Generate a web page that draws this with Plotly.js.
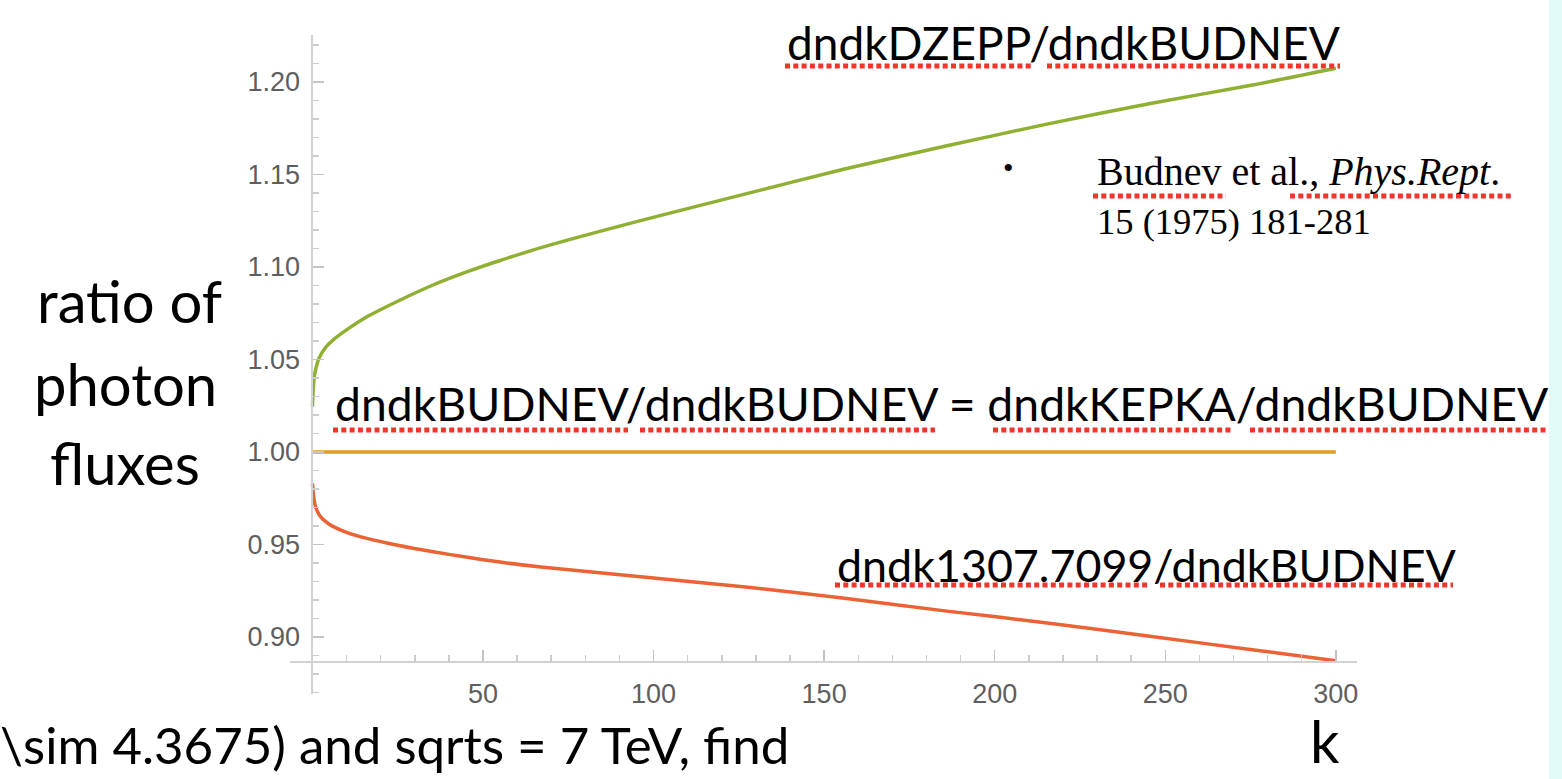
<!DOCTYPE html>
<html><head><meta charset="utf-8">
<script src="https://cdn.plot.ly/plotly-3.0.1.min.js"></script>
<style>html,body{margin:0;padding:0;background:#fff;overflow:hidden}#chart{width:1562px;height:779px}</style>
</head><body><div id="chart"></div>
<script>
// photon energy k
const k = [0, 0.5, 1, 2, 4, 6, 10, 16, 25, 35, 45, 55, 67, 97, 127, 156, 186, 216, 246, 276, 300];
// dndkDZEPP / dndkBUDNEV
const ratioDZEPP = [1.0245, 1.040, 1.045, 1.0510, 1.0568, 1.0605, 1.0660, 1.0731, 1.0815, 1.0900, 1.0972, 1.1035, 1.1105, 1.1255, 1.1395, 1.1530, 1.1655, 1.1775, 1.1885, 1.1985, 1.2074];
// dndk1307.7099 / dndkBUDNEV
const ratio1307 = [0.9831, 0.9740, 0.9700, 0.9660, 0.9622, 0.9598, 0.9566, 0.9533, 0.9496, 0.9462, 0.9432, 0.9405, 0.9378, 0.9325, 0.9270, 0.9210, 0.9140, 0.9075, 0.9003, 0.8930, 0.8872];
// dndkBUDNEV / dndkBUDNEV = dndkKEPKA / dndkBUDNEV
const kFlat = [0, 300];
const ratioFlat = [1.0, 1.0];

const yTicks = [0.90, 0.95, 1.00, 1.05, 1.10, 1.15, 1.20];
const xTicks = [50, 100, 150, 200, 250, 300];

const W = 1562, H = 779;
const px = x => x / W, py = y => 1 - y / H;

const traces = [
  {x: k, y: ratioDZEPP, mode: 'lines', line: {color: '#8fb032', width: 3.5, shape: 'spline', smoothing: 0.7}, hoverinfo: 'skip'},
  {x: kFlat, y: ratioFlat, mode: 'lines', line: {color: '#e19c24', width: 3.5}, hoverinfo: 'skip'},
  {x: k, y: ratio1307, mode: 'lines', line: {color: '#eb6235', width: 3.5, shape: 'spline', smoothing: 0.7}, hoverinfo: 'skip'}
];

const sans = 'Lato, "Open Sans", sans-serif';
const serif = '"Liberation Serif", "Times New Roman", serif';
function ann(text, x, y, size, family, xanchor, color) {
  return {text: text, xref: 'paper', yref: 'paper', x: px(x), y: py(y), xanchor: xanchor || 'left', yanchor: 'middle',
    showarrow: false, font: {family: family, size: size, color: color || '#000'}};
}
const annotations = [
  ann('ratio of', 129, 300, 58, sans, 'center'),
  ann('photon', 125, 383, 58, sans, 'center'),
  ann('fluxes', 125, 462, 58, sans, 'center'),
  ann('dndkDZEPP/dndkBUDNEV', 785, 43, 46, sans),
  ann('dndkBUDNEV/dndkBUDNEV = dndkKEPKA/dndkBUDNEV', 333, 403, 46.3, sans),
  ann('dndk1307.7099/dndkBUDNEV', 835, 565, 44.8, sans),
  ann('•', 1008, 168, 30, serif, 'center'),
  ann('Budnev et al., <i>Phys.Rept</i>.', 1095, 172, 40, serif),
  ann('15 (1975) 181-281', 1095, 221, 36.5, serif),
  ann('k', 1325, 740, 58, sans, 'center'),
  ann('\\sim 4.3675) and sqrts = 7 TeV, find', -2, 744, 51, sans)
];

const red = '#f0362c';
const dots = [[785,1032,66],[1047,1340,66],[333,628,430],[640,935,430],[993,1232,430],[1250,1547,430],
  [835,1148,585],[1160,1453,585],[1093,1226,196],[1290,1512,196]];
const shapes = [
  {type: 'rect', xref: 'paper', yref: 'paper', x0: px(1549), x1: 1, y0: 0, y1: 1, fillcolor: '#e2fbf8', line: {width: 0}, layer: 'below'}
].concat(dots.map(d => ({type: 'line', xref: 'paper', yref: 'paper', x0: px(d[0]), x1: px(d[1]), y0: py(d[2]), y1: py(d[2]),
  line: {color: red, width: 5, dash: '5px,3.3px'}})));

const tickFont = {family: '"Liberation Sans", Arial, sans-serif', size: 27, color: '#5e5e5e'};
const layout = {
  width: W, height: H, margin: {l: 0, r: 0, t: 0, b: 0}, paper_bgcolor: '#fff', plot_bgcolor: 'rgba(0,0,0,0)', showlegend: false,
  xaxis: {domain: [px(290), px(1357)], range: [-6.57, 306.2], anchor: 'free', position: py(662),
    showline: true, linecolor: '#d2d2d2', linewidth: 2, ticks: 'inside', ticklen: 11, tickwidth: 1.5, tickcolor: '#c4c4c4',
    tickmode: 'array', tickvals: xTicks, ticktext: xTicks.map(String), tickfont: tickFont, showgrid: false, zeroline: false,
    ticklabelstandoff: 8,
    minor: {tickmode: 'linear', tick0: 0, dtick: 10, ticks: 'inside', ticklen: 6, tickwidth: 1.5, tickcolor: '#cccccc', showgrid: false},
    fixedrange: true},
  yaxis: {domain: [py(694), py(35)], range: [0.8692, 1.2254], anchor: 'free', position: px(312.4),
    showline: true, linecolor: '#d2d2d2', linewidth: 2, ticks: 'inside', ticklen: 11, tickwidth: 1.5, tickcolor: '#c4c4c4',
    tickmode: 'array', tickvals: yTicks, ticktext: yTicks.map(v => v.toFixed(2)), tickfont: tickFont, showgrid: false, zeroline: false,
    ticklabelstandoff: 6,
    minor: {tickmode: 'linear', tick0: 0, dtick: 0.01, ticks: 'inside', ticklen: 6, tickwidth: 1.5, tickcolor: '#cccccc', showgrid: false},
    fixedrange: true},
  annotations: annotations, shapes: shapes
};
Plotly.newPlot('chart', traces, layout, {displayModeBar: false, staticPlot: true});
</script></body></html>
